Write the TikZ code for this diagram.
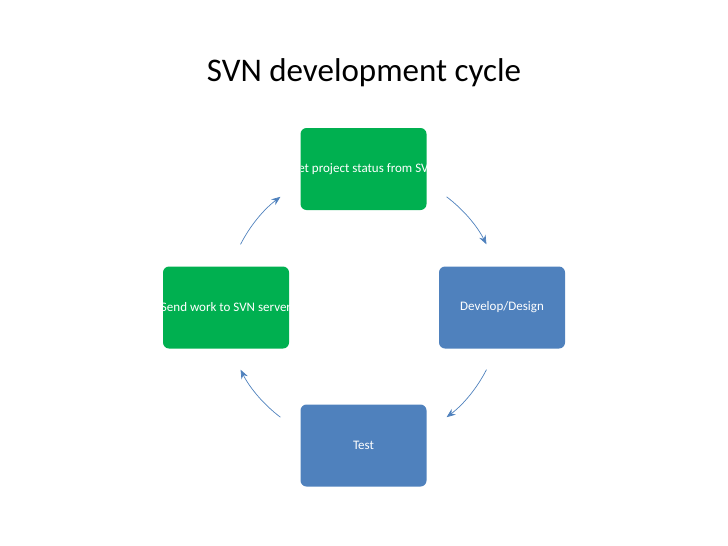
\documentclass[tikz,border=0pt]{standalone}
\usepackage{fontspec}
\setmainfont{Carlito}
\usetikzlibrary{arrows.meta}
\definecolor{sgreen}{HTML}{00B050}
\definecolor{sblue}{HTML}{4F81BD}
\tikzset{
 box/.style={rounded corners=6pt, minimum width=126pt, minimum height=82pt, inner sep=0pt},
 boxtext/.style={path picture={\node[text=white,font=\fontsize{13}{15}\selectfont] at (path picture bounding box.center) {#1};}},
 cyc/.style={draw=sblue, line width=0.7pt, -{Stealth[length=9pt,width=7pt]}}
}
\begin{document}
\begin{tikzpicture}[x=1pt,y=-1pt]
\useasboundingbox (0,0) rectangle (728,546);
\node[font=\fontsize{33}{38}\selectfont] (title) at (364,73) {SVN development cycle};
\node[box, fill=sgreen, boxtext={Get project status from SVN}] (get) at (363.5,169) {};
\node[box, fill=sblue, boxtext={Develop/Design}] (dev) at (502,307.5) {};
\node[box, fill=sblue, boxtext={Test}] (test) at (363.5,445.5) {};
\node[box, fill=sgreen, boxtext={Send work to SVN server}] (send) at (226,307.5) {};
\coordinate (c) at (363.5,307);
\begin{scope}[shift={(c)}, y=1pt]
 \coordinate (s1) at (153:138);
 \coordinate (s2) at (53:138);
 \coordinate (s3) at (-27:138);
 \coordinate (s4) at (-127:138);
 \draw[cyc] (s1) arc[start angle=153, end angle=127, radius=138];
 \draw[cyc] (s2) arc[start angle=53, end angle=27, radius=138];
 \draw[cyc] (s3) arc[start angle=-27, end angle=-53, radius=138];
 \draw[cyc] (s4) arc[start angle=-127, end angle=-153, radius=138];
\end{scope}
\end{tikzpicture}
\end{document}
